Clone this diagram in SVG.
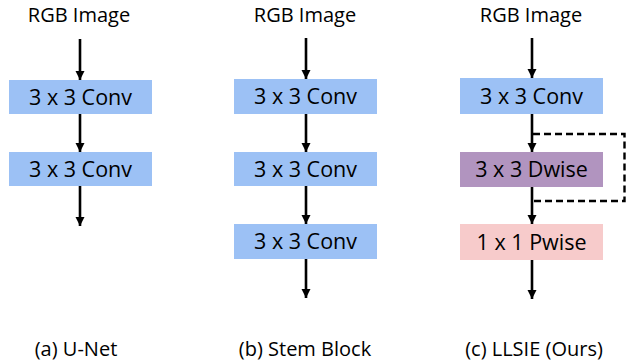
<svg xmlns="http://www.w3.org/2000/svg" width="626" height="362" viewBox="0 0 626 362">
<defs>
<style>
.t{font-family:"Open Sans","Liberation Sans",sans-serif;fill:#000;text-anchor:middle}
.lbl{font-size:20px}
.box{font-size:21.5px}
.conv{fill:#9CC1F5}
.dw{fill:#B194BF}
.pw{fill:#F7CBCB}
.ar{stroke:#000;stroke-width:2.6;fill:none;marker-end:url(#ah)}
.dash{stroke:#000;stroke-width:2.4;fill:none;stroke-dasharray:7 4}
</style>
<marker id="ah" viewBox="0 0 10 10" refX="10" refY="5" markerWidth="3.6" markerHeight="3.6" markerUnits="strokeWidth" orient="auto">
<path d="M0,0 L10,5 L0,10 z" fill="#000"/>
</marker>
</defs>
<rect width="626" height="362" fill="#fff"/>
<g id="connectors">
<line class="ar" x1="80" y1="39" x2="80" y2="80"/>
<line class="ar" x1="80" y1="114" x2="80" y2="152"/>
<line class="ar" x1="80" y1="186" x2="80" y2="226"/>
<line class="ar" x1="306" y1="38" x2="306" y2="79"/>
<line class="ar" x1="306" y1="114" x2="306" y2="152"/>
<line class="ar" x1="306" y1="186" x2="306" y2="224"/>
<line class="ar" x1="306" y1="259" x2="306" y2="298"/>
<line class="ar" x1="532" y1="38" x2="532" y2="78"/>
<line class="ar" x1="532" y1="114" x2="532" y2="152"/>
<line class="ar" x1="532" y1="187" x2="532" y2="224"/>
<line class="ar" x1="532" y1="260" x2="532" y2="299"/>
<path class="dash" d="M533,134 H624.5 V201 H533"/>
</g>
<g id="a-input"><text class="t lbl" x="79" y="22">RGB Image</text></g>
<g id="a-conv1"><rect class="conv" x="9" y="80" width="143" height="34"/><text class="t box" x="80.5" y="105">3 x 3 Conv</text></g>
<g id="a-conv2"><rect class="conv" x="9" y="152" width="143" height="34"/><text class="t box" x="80.5" y="177">3 x 3 Conv</text></g>
<g id="a-caption"><text class="t lbl" x="76" y="356">(a) U-Net</text></g>
<g id="b-input"><text class="t lbl" x="305" y="22">RGB Image</text></g>
<g id="b-conv1"><rect class="conv" x="234" y="79" width="143" height="35"/><text class="t box" x="305.5" y="104">3 x 3 Conv</text></g>
<g id="b-conv2"><rect class="conv" x="234" y="152" width="143" height="34"/><text class="t box" x="305.5" y="177">3 x 3 Conv</text></g>
<g id="b-conv3"><rect class="conv" x="234" y="224" width="143" height="35"/><text class="t box" x="305.5" y="249">3 x 3 Conv</text></g>
<g id="b-caption"><text class="t lbl" x="305" y="356">(b) Stem Block</text></g>
<g id="c-input"><text class="t lbl" x="531" y="22">RGB Image</text></g>
<g id="c-conv"><rect class="conv" x="460" y="78" width="143" height="36"/><text class="t box" x="531.5" y="104">3 x 3 Conv</text></g>
<g id="c-dwise"><rect class="dw" x="460" y="152" width="143" height="35"/><text class="t box" x="531.5" y="177">3 x 3 Dwise</text></g>
<g id="c-pwise"><rect class="pw" x="460" y="224" width="143" height="36"/><text class="t box" x="531.5" y="250">1 x 1 Pwise</text></g>
<g id="c-caption"><text class="t lbl" x="534" y="356">(c) LLSIE (Ours)</text></g>
</svg>
